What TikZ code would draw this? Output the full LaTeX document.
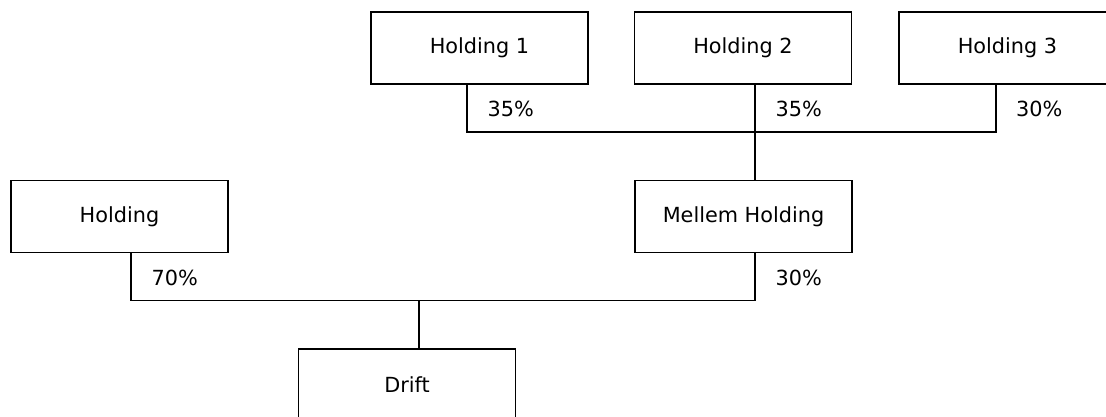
\documentclass[tikz,border=0pt]{standalone}
\usepackage{fontspec}
\setmainfont{DejaVu Sans}
\begin{document}
\begin{tikzpicture}[x=1pt,y=-1pt,
  entity/.style={draw, line width=1.8pt, minimum width=217pt, minimum height=72pt,
    inner sep=0pt, outer sep=0pt, font=\fontsize{20.8}{25}\selectfont},
  pct/.style={anchor=base west, inner sep=0pt, font=\fontsize{20.8}{25}\selectfont},
  link/.style={line width=1.8pt, line cap=rect}]
\useasboundingbox (0,0) rectangle (1106,417);
\clip (0,0) rectangle (1106,417);

% owners at the top
\node[entity] (h1) at (479.5,48) {Holding 1};
\node[entity] (h2) at (743,48) {Holding 2};
\node[entity] (h3) at (1007.5,48) {Holding 3};

% middle tier
\node[entity] (hold) at (119.5,216.5) {Holding};
\node[entity] (mh) at (743.5,216.5) {Mellem Holding};

% operating company
\node[entity] (drift) at (407,385) {Drift};

% junction points of the ownership lines
\coordinate (busL) at (467,132);
\coordinate (busM) at (755,132);
\coordinate (busR) at (996,132);
\coordinate (lowL) at (131,300.5);
\coordinate (lowM) at (419,300.5);
\coordinate (lowR) at (755,300.5);

% upper ownership tree
\draw[link] (h1.south -| busL) |- (busR) -- (h3.south -| busR);
\draw[link] (h2.south -| busM) -- (busM) -- (mh.north -| busM);

% lower ownership tree
\draw[link] (hold.south -| lowL) |- (lowR) -- (mh.south -| lowR);
\draw[link] (lowM) -- (drift.north -| lowM);

% ownership shares
\node[pct] (p1) at (487.5,117) {35\%};
\node[pct] (p2) at (775.5,117) {35\%};
\node[pct] (p3) at (1016,117) {30\%};
\node[pct] (p4) at (151.5,285.5) {70\%};
\node[pct] (p5) at (775.5,285.5) {30\%};
\end{tikzpicture}
\end{document}
